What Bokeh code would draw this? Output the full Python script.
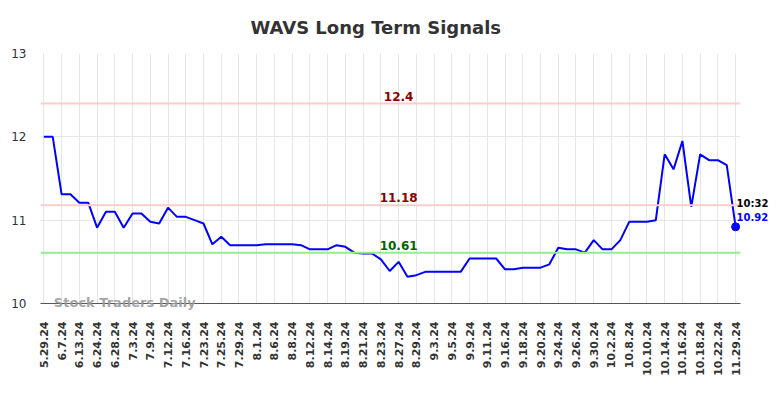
from bokeh.plotting import figure
from bokeh.models import Span, Label, FixedTicker, ColumnDataSource, Range1d
from bokeh.core.properties import value
from bokeh.embed import file_html
from bokeh.resources import INLINE

title = "WAVS Long Term Signals"

tick_labels = ["5.29.24", "6.7.24", "6.13.24", "6.24.24", "6.28.24", "7.3.24", "7.9.24",
               "7.12.24", "7.16.24", "7.23.24", "7.25.24", "7.29.24", "8.1.24", "8.6.24",
               "8.8.24", "8.12.24", "8.14.24", "8.19.24", "8.21.24", "8.23.24", "8.27.24",
               "8.29.24", "9.3.24", "9.5.24", "9.9.24", "9.11.24", "9.16.24", "9.18.24",
               "9.20.24", "9.24.24", "9.26.24", "9.30.24", "10.2.24", "10.8.24", "10.10.24",
               "10.14.24", "10.16.24", "10.18.24", "10.22.24", "11.29.24"]

values = [12.00, 12.00, 11.31, 11.31, 11.21, 11.21, 10.91, 11.10, 11.10, 10.91,
          11.08, 11.08, 10.98, 10.96, 11.15, 11.04, 11.04, 11.00, 10.96, 10.71,
          10.80, 10.70, 10.70, 10.70, 10.70, 10.71, 10.71, 10.71, 10.71, 10.70,
          10.65, 10.65, 10.65, 10.70, 10.68, 10.61, 10.60, 10.60, 10.53, 10.39,
          10.50, 10.32, 10.34, 10.38, 10.38, 10.38, 10.38, 10.38, 10.54, 10.54,
          10.54, 10.54, 10.41, 10.41, 10.43, 10.43, 10.43, 10.47, 10.67, 10.65,
          10.65, 10.61, 10.76, 10.65, 10.65, 10.76, 10.98, 10.98, 10.98, 11.00,
          11.79, 11.61, 11.95, 11.16, 11.79, 11.72, 11.72, 11.66, 10.92]

y_ticks = [10, 11, 12, 13]
resistance_high = 12.4
resistance_mid = 11.18
support = 10.61
last_time = "10:32"
watermark = "Stock Traders Daily"

FONT = "DejaVu Sans"

xs = list(range(len(values)))
tick_pos = xs[::2]
src = ColumnDataSource(data=dict(x=xs, y=values))

p = figure(width=784, height=398, output_backend="svg", toolbar_location=None,
           x_range=Range1d(-0.38, len(values) - 1 + 0.55),
           y_range=Range1d(y_ticks[0], y_ticks[-1]),
           min_border_left=40, min_border_right=44, min_border_top=53, min_border_bottom=95)

p.outline_line_color = None
p.background_fill_color = "white"

# axes
p.xaxis.ticker = FixedTicker(ticks=tick_pos)
p.xaxis.major_label_overrides = {i: lab for i, lab in zip(tick_pos, tick_labels)}
p.xaxis.major_label_orientation = 3.14159265 / 2
p.xaxis.major_label_text_font = FONT
p.xaxis.major_label_text_font_size = "11px"
p.xaxis.major_label_text_font_style = "bold"
p.xaxis.major_label_text_color = "#333333"
p.xaxis.major_tick_line_color = None
p.xaxis.minor_tick_line_color = None
p.xaxis.major_tick_out = 0
p.xaxis.major_tick_in = 0
p.xaxis.major_label_standoff = 18
p.xaxis.axis_line_color = "#555555"
p.xaxis.axis_line_width = 1

p.yaxis.ticker = FixedTicker(ticks=y_ticks)
p.yaxis.major_label_text_font = FONT
p.yaxis.major_label_text_font_size = "12px"
p.yaxis.major_label_text_color = "#333333"
p.yaxis.major_tick_line_color = None
p.yaxis.minor_tick_line_color = None
p.yaxis.major_tick_out = 0
p.yaxis.major_tick_in = 0
p.yaxis.major_label_standoff = 14
p.yaxis.axis_line_color = None

p.xgrid.grid_line_color = "#e6e6e6"
p.ygrid.grid_line_color = "#e6e6e6"
p.xgrid.grid_line_width = 1
p.ygrid.grid_line_width = 1

# title (drawn as overlay text above the frame)
p.text(x=[(len(values) - 1) / 2], y=[y_ticks[-1]], text=[title], x_offset=-14, y_offset=-26,
       text_align="center", text_baseline="middle", text_font=value(FONT),
       text_font_size="18px", text_font_style="bold", text_color="#333333", level="overlay")

# signal lines
for lvl, col in [(resistance_high, "#ffcccc"), (resistance_mid, "#ffcccc"), (support, "#90ee90")]:
    p.add_layout(Span(location=lvl, dimension="width", line_color=col, line_width=2))

mid = len(values) // 2 + 1
for lvl, col in [(resistance_high, "#8b0000"), (resistance_mid, "#8b0000"), (support, "#006400")]:
    p.add_layout(Label(x=mid, y=lvl, text=f"{lvl:g}", text_align="center", text_baseline="bottom",
                       y_offset=3, text_font=FONT, text_font_size="12px", text_font_style="bold",
                       text_color=col))

p.line("x", "y", source=src, line_color="blue", line_width=2)
p.scatter(x=[xs[-1]], y=[values[-1]], size=8, color="blue")

p.text(x=[xs[-1]], y=[values[-1]], text=[last_time], x_offset=1, y_offset=-23,
       text_align="left", text_baseline="middle", text_font=value(FONT),
       text_font_size="10px", text_font_style="bold", text_color="black", level="overlay")
p.text(x=[xs[-1]], y=[values[-1]], text=[f"{values[-1]:.2f}"], x_offset=1, y_offset=-10,
       text_align="left", text_baseline="middle", text_font=value(FONT),
       text_font_size="10px", text_font_style="bold", text_color="blue", level="overlay")

p.text(x=[xs[0]], y=[y_ticks[0]], text=[watermark], x_offset=10, y_offset=-1,
       text_align="left", text_baseline="middle", text_font=value(FONT),
       text_font_size="13px", text_font_style="bold", text_color="#999999",
       text_alpha=0.9, level="overlay")

open("out.html", "w").write(file_html(p, INLINE))
